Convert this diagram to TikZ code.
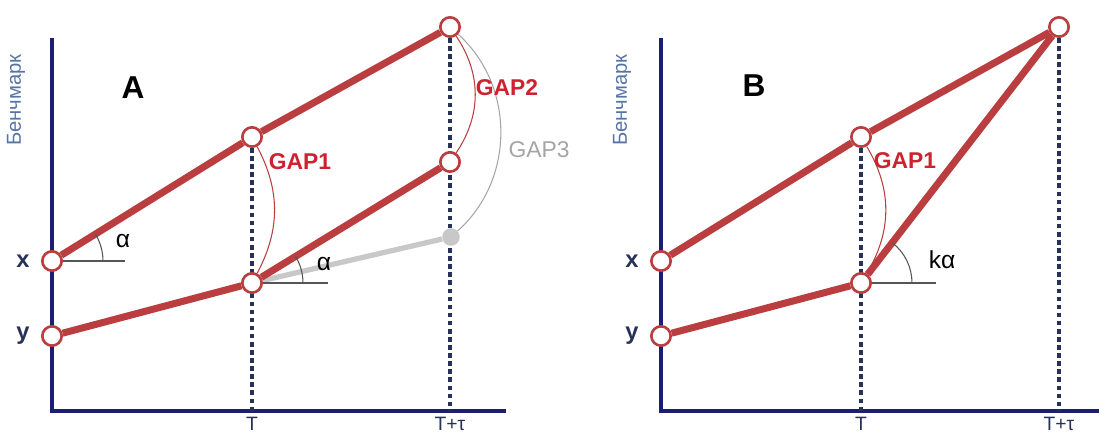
\documentclass[tikz,border=0pt]{standalone}
\usepackage{fontspec}
\setmainfont{Liberation Sans}
\usetikzlibrary{angles,backgrounds}

\definecolor{brick}{RGB}{186,62,64}
\definecolor{gapred}{RGB}{205,35,48}
\definecolor{navy}{RGB}{28,30,115}
\definecolor{slate}{RGB}{40,50,88}
\definecolor{steel}{RGB}{85,115,165}
\definecolor{lgray}{RGB}{200,200,200}
\definecolor{mgray}{RGB}{165,165,165}
\definecolor{dgray}{RGB}{85,85,85}

\tikzset{
  >={stealth},
  pt/.style={circle, draw=brick, fill=white, line width=1.5pt, minimum size=11pt, inner sep=0pt},
  gdot/.style={circle, fill=lgray, minimum size=10pt, inner sep=0pt},
  bar/.style={brick, line width=4pt},
  axis/.style={navy, line width=2pt},
  guide/.style={slate, line width=2pt, dash pattern=on 2.6pt off 2pt},
  tick/.style={dgray, line width=0.6pt},
  gaparc/.style={brick, line width=0.6pt},
  gaplbl/.style={gapred, font=\fontsize{13}{15}\selectfont\bfseries},
  greek/.style={font=\fontsize{14}{16}\selectfont},
  varlbl/.style={slate, font=\fontsize{13.5}{15}\selectfont\bfseries},
  ylbl/.style={steel, rotate=90, font=\fontsize{11.5}{14}\selectfont},
  tlbl/.style={slate, anchor=south, inner sep=0pt, font=\fontsize{11}{13}\selectfont},
  panel/.style={font=\fontsize{18}{20}\selectfont\bfseries}
}

\begin{document}
\begin{tikzpicture}[x=0.2mm, y=0.2mm]
\useasboundingbox (0,0) rectangle (1099,432);

%==================== 左图：A ====================
\begin{scope}

% 点
\node[pt] (xa) at (52,171) {};
\node[pt] (ya) at (52,96) {};
\node[pt] (pa1) at (252,295) {};
\node[pt] (pa2) at (252,149) {};
\node[pt] (pa3) at (450,405) {};
\node[pt] (pa4) at (450,270) {};
\node[gdot] (pa5) at (451,195) {};
\coordinate (oa) at (52,21);
\coordinate (ha1) at (125,171);
\coordinate (ha2) at (328,149);

\begin{scope}[on background layer]
% 坐标轴
\draw[axis] (52,394) -- (oa) -- (506,21);
\draw[guide] (pa1) -- (pa1 |- oa);
\draw[guide] (pa3) -- (pa3 |- oa);
% 折线
\draw[lgray, line width=3pt] (pa2) -- (pa5);
\draw[bar] (xa) -- (pa1) -- (pa3);
\draw[bar] (ya) -- (pa2) -- (pa4);
% 角 α
\draw[tick] (xa) -- (ha1);
\draw[tick] (pa2) -- (ha2);
\end{scope}
\pic[draw=dgray, line width=0.6pt, angle radius=10.2mm] {angle=ha1--xa--pa1};
\pic[draw=dgray, line width=0.6pt, angle radius=10.2mm] {angle=ha2--pa2--pa4};
\node[greek] at (123,191) {α};
\node[greek] at (324,168) {α};

% GAP 弧
\draw[gaparc] (pa1) to[bend left=28] (pa2);
\draw[gaparc] (pa3) to[bend left=34] (pa4);
\draw[mgray, line width=0.6pt] (pa3) to[bend left=48] (pa5);
\node[gaplbl] at (300,270) {GAP1};
\node[gaplbl] at (507,344) {GAP2};
\node[mgray, font=\fontsize{13}{15}\selectfont] at (539,282) {GAP3};

% 文字
\node[panel] at (133,344) {A};
\node[ylbl] at (16,332) {Бенчмарк};
\node[varlbl] at (23,171) {x};
\node[varlbl] at (23,96) {y};
\node[tlbl] at (252,1) {T};
\node[tlbl] at (450,1) {T+τ};

\end{scope}

%==================== 右图：B ====================
\begin{scope}[xshift=121.8mm]

% 点
\node[pt] (xb) at (52,171) {};
\node[pt] (yb) at (52,96) {};
\node[pt] (pb1) at (252,295) {};
\node[pt] (pb2) at (252,149) {};
\node[pt] (pb3) at (450,405) {};
\coordinate (ob) at (52,21);
\coordinate (hb) at (327,149);

\begin{scope}[on background layer]
% 坐标轴
\draw[axis] (52,394) -- (ob) -- (500,21);
\draw[guide] (pb1) -- (pb1 |- ob);
\draw[guide] (pb3) -- (pb3 |- ob);
% 折线
\draw[bar] (xb) -- (pb1) -- (pb3);
\draw[bar] (yb) -- (pb2) -- (pb3);
% 角 kα
\draw[tick] (pb2) -- (hb);
\end{scope}
\pic[draw=dgray, line width=0.6pt, angle radius=10.2mm] {angle=hb--pb2--pb3};
\node[greek] at (333,172) {kα};

% GAP 弧
\draw[gaparc] (pb1) to[bend left=31] (pb2);
\node[gaplbl] at (296,271) {GAP1};

% 文字
\node[panel] at (145,346) {B};
\node[ylbl] at (13,332) {Бенчмарк};
\node[varlbl] at (23,171) {x};
\node[varlbl] at (23,96) {y};
\node[tlbl] at (252,1) {T};
\node[tlbl] at (450,1) {T+τ};

\end{scope}
\end{tikzpicture}
\end{document}
